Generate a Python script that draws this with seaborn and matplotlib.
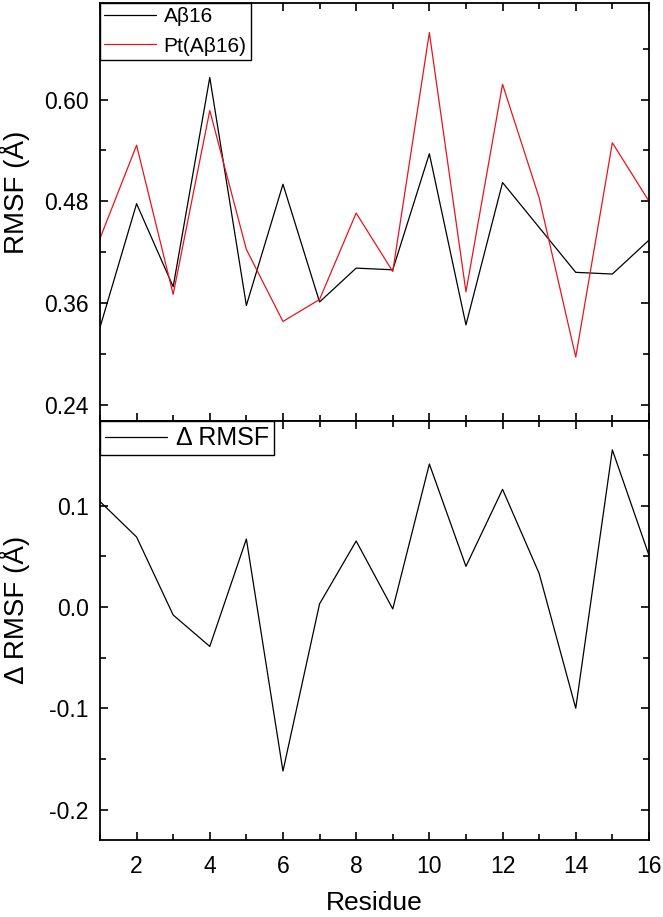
import matplotlib
matplotlib.use('Agg')
import matplotlib.pyplot as plt
import seaborn as sns
import pandas as pd
from matplotlib.ticker import MultipleLocator, FormatStrFormatter

# data
residue = list(range(1, 17))
rmsf_ab16 = [0.331, 0.477, 0.379, 0.626, 0.357, 0.500, 0.361, 0.401,
             0.399, 0.536, 0.334, 0.502, 0.449, 0.396, 0.394, 0.434]
rmsf_pt_ab16 = [0.436, 0.546, 0.370, 0.587, 0.423, 0.338, 0.364, 0.466,
                0.397, 0.679, 0.373, 0.618, 0.484, 0.296, 0.549, 0.480]
delta_rmsf = [0.104, 0.069, -0.008, -0.039, 0.067, -0.162, 0.003, 0.065,
              -0.002, 0.141, 0.040, 0.116, 0.033, -0.100, 0.155, 0.051]

sns.set_style('ticks')
plt.rcParams['font.family'] = ['Liberation Sans', 'DejaVu Sans']
plt.rcParams['axes.unicode_minus'] = False
plt.rcParams['axes.linewidth'] = 1.3
for key in ['text.color', 'axes.labelcolor', 'xtick.color', 'ytick.color', 'axes.edgecolor']:
    plt.rcParams[key] = 'black'

fig = plt.figure(figsize=(6.63, 9.17), dpi=100)
ax1 = fig.add_axes([0.1508, 0.5404, 0.828, 0.4564])
ax2 = fig.add_axes([0.1508, 0.0840, 0.828, 0.4564])

top = pd.DataFrame({'Residue': residue * 2,
                    'RMSF': rmsf_ab16 + rmsf_pt_ab16,
                    'System': ['A\u03b216'] * 16 + ['Pt(A\u03b216)'] * 16})
sns.lineplot(data=top, x='Residue', y='RMSF', hue='System',
             palette=['black', '#e8141c'], linewidth=0.9, ax=ax1)

bot = pd.DataFrame({'Residue': residue, 'dRMSF': delta_rmsf})
sns.lineplot(data=bot, x='Residue', y='dRMSF', color='black',
             linewidth=0.9, label='\u0394 RMSF', ax=ax2)

for ax, fs, sp in ((ax1, 15, 0.5), (ax2, 18, 0.4)):
    ax.set_xlim(1, 16)
    ax.xaxis.set_major_locator(MultipleLocator(2))
    ax.xaxis.set_minor_locator(MultipleLocator(1))
    ax.tick_params(which='both', direction='in', top=True, right=True,
                   width=1.2, labelsize=16.5)
    ax.tick_params(axis='y', pad=8)
    ax.tick_params(axis='x', pad=11)
    ax.tick_params(which='major', length=6)
    ax.tick_params(which='minor', length=4)
    leg = ax.legend(loc='upper left', fontsize=fs, frameon=True, fancybox=False,
                    borderaxespad=0, handlelength=2.5, borderpad=0.2,
                    labelspacing=sp, handletextpad=0.35)
    leg.get_frame().set_edgecolor('black')
    leg.get_frame().set_linewidth(1.0)
    leg.get_frame().set_alpha(1)

ax1.set_ylim(0.22, 0.714)
ax1.yaxis.set_minor_locator(MultipleLocator(0.06))
ax1.yaxis.set_major_formatter(FormatStrFormatter('%.2f'))
ax1.set_yticks([0.24, 0.36, 0.48, 0.60])
ax1.tick_params(axis='x', labelbottom=False)
ax1.set_xlabel('')
ax1.set_ylabel('RMSF (\u00c5)', fontsize=20)
ax1.yaxis.set_label_coords(-0.128, 0.548)

ax2.set_ylim(-0.23, 0.183)
ax2.yaxis.set_major_locator(MultipleLocator(0.1))
ax2.yaxis.set_minor_locator(MultipleLocator(0.05))
ax2.yaxis.set_major_formatter(FormatStrFormatter('%.1f'))
ax2.set_xlabel('Residue', fontsize=19, labelpad=9)
ax2.set_ylabel('\u0394 RMSF (\u00c5)', fontsize=20)
ax2.yaxis.set_label_coords(-0.128, 0.55)

fig.savefig('out.png', dpi=100)
